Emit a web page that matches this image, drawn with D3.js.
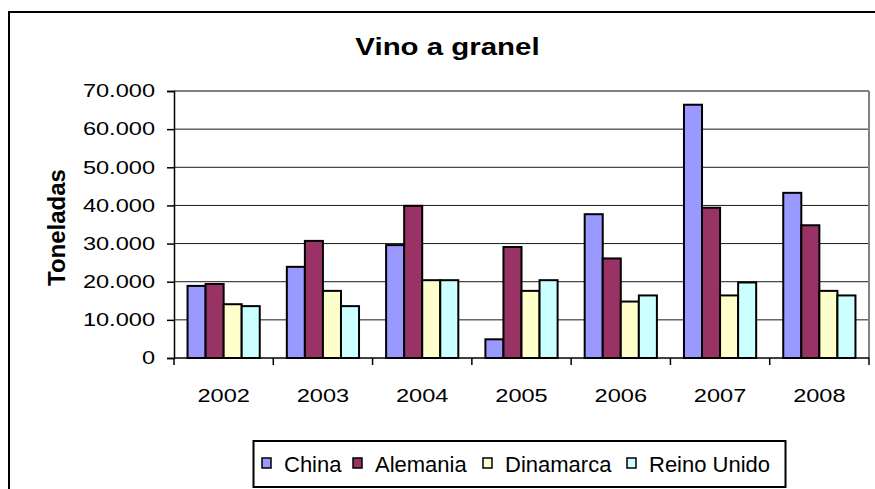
<!DOCTYPE html>
<html>
<head>
<meta charset="utf-8">
<script src="https://cdn.jsdelivr.net/npm/d3@7"></script>
<style>
  body { margin: 0; background: #fff; }
  text { font-family: "Liberation Sans", Arial, sans-serif; fill: #000; }
</style>
</head>
<body>
<div id="chart"></div>
<script>
// data
var years = ["2002", "2003", "2004", "2005", "2006", "2007", "2008"];
var seriesNames = ["China", "Alemania", "Dinamarca", "Reino Unido"];
var china = [18900, 23900, 29600, 4900, 37700, 66400, 43300];
var alemania = [19400, 30700, 39900, 29100, 26100, 39400, 34800];
var dinamarca = [14100, 17600, 20400, 17600, 14800, 16400, 17600];
var reinoUnido = [13600, 13600, 20400, 20400, 16400, 19800, 16400];
var yTicks = [0, 10000, 20000, 30000, 40000, 50000, 60000, 70000];
var colors = ["#9999FF", "#993366", "#FFFFCC", "#CCFFFF"];

var seriesValues = [china, alemania, dinamarca, reinoUnido];
var width = 875, height = 489;
var plot = { left: 174, right: 869, top: 91, bottom: 358 };
var sx = 1.31; // text in the picture is stretched sideways

var fmt = d3.formatLocale({ decimal: ",", thousands: ".", grouping: [3], currency: ["", ""] }).format(",d");

var svg = d3.select("#chart").append("svg").attr("width", width).attr("height", height);

// outer chart frame (only left and top edges are in view)
svg.append("rect").attr("x", 9).attr("y", 12).attr("width", 900).attr("height", 520)
    .attr("fill", "#fff").attr("stroke", "#000").attr("stroke-width", 2);

var x0 = d3.scaleBand().domain(years).range([plot.left, plot.right]);
var gap = x0.bandwidth() * 1.5 / 5.5;
var x1 = d3.scaleBand().domain(seriesNames).range([gap / 2, x0.bandwidth() - gap / 2]);
var y = d3.scaleLinear().domain([0, 70000]).range([plot.bottom, plot.top]);

// gridlines
svg.append("g").selectAll("line").data(yTicks.slice(1)).join("line")
    .attr("x1", plot.left).attr("x2", plot.right).attr("y1", d => y(d)).attr("y2", d => y(d))
    .attr("stroke", d => d == 70000 ? "#808080" : "#1a1a1a").attr("stroke-width", d => d == 70000 ? 2 : 1);
// plot area right edge
svg.append("line").attr("x1", plot.right).attr("x2", plot.right).attr("y1", plot.top).attr("y2", plot.bottom)
    .attr("stroke", "#808080").attr("stroke-width", 2);

// bars
var groups = svg.append("g").selectAll("g").data(years).join("g")
    .attr("transform", d => "translate(" + x0(d) + ",0)");
groups.selectAll("rect").data((d, i) => seriesNames.map((s, j) => ({ s: s, j: j, v: seriesValues[j][i] }))).join("rect")
    .attr("x", d => x1(d.s)).attr("width", x1.bandwidth())
    .attr("y", d => y(d.v)).attr("height", d => y(0) - y(d.v))
    .attr("fill", d => colors[d.j]).attr("stroke", "#000").attr("stroke-width", 2);

// y axis
var yAxis = svg.append("g").attr("transform", "translate(" + plot.left + ",0)")
    .call(d3.axisLeft(y).tickValues(yTicks).tickSize(7).tickFormat(""));
yAxis.select(".domain").attr("stroke", "#000").attr("stroke-width", 1.5);
yAxis.selectAll(".tick line").attr("stroke", "#000").attr("stroke-width", 1.5);
svg.append("g").selectAll("text").data(yTicks).join("text")
    .attr("transform", d => "translate(155," + y(d) + ") scale(" + sx + ",1)")
    .attr("dy", "0.35em").attr("text-anchor", "end").attr("font-size", 18)
    .text(d => fmt(d));

// x axis, ticks sit between the categories
svg.append("line").attr("x1", plot.left).attr("x2", plot.right).attr("y1", plot.bottom).attr("y2", plot.bottom)
    .attr("stroke", "#000").attr("stroke-width", 1.5);
svg.append("g").selectAll("line").data(years.concat(["end"])).join("line")
    .attr("x1", (d, i) => plot.left + i * x0.step()).attr("x2", (d, i) => plot.left + i * x0.step())
    .attr("y1", plot.bottom).attr("y2", plot.bottom + 7)
    .attr("stroke", "#000").attr("stroke-width", 1.5);
svg.append("g").selectAll("text").data(years).join("text")
    .attr("transform", d => "translate(" + (x0(d) + x0.bandwidth() / 2) + ",402) scale(" + sx + ",1)")
    .attr("text-anchor", "middle").attr("font-size", 18)
    .text(d => d);

// title and axis title
svg.append("text").attr("transform", "translate(447.5,54.5) scale(1.28,1)")
    .attr("text-anchor", "middle").attr("font-size", 23).attr("font-weight", "bold")
    .text("Vino a granel");
svg.append("text").attr("transform", "translate(65,227.5) rotate(-90)")
    .attr("text-anchor", "middle").attr("font-size", 24).attr("font-weight", "bold")
    .text("Toneladas");

// legend
var legend = svg.append("g");
legend.append("rect").attr("x", 253.5).attr("y", 441).attr("width", 532).attr("height", 46)
    .attr("fill", "#fff").attr("stroke", "#000").attr("stroke-width", 2);
var legendX = [262, 353, 483, 627];
var items = legend.selectAll("g").data(seriesNames).join("g")
    .attr("transform", (d, i) => "translate(" + legendX[i] + ",0)");
items.append("rect").attr("x", 0).attr("y", 458).attr("width", 9).attr("height", 10)
    .attr("fill", (d, i) => colors[i]).attr("stroke", "#000").attr("stroke-width", 1.5);
items.append("text").attr("x", 22).attr("y", 472).attr("font-size", 22).text(d => d);
</script>
</body>
</html>
